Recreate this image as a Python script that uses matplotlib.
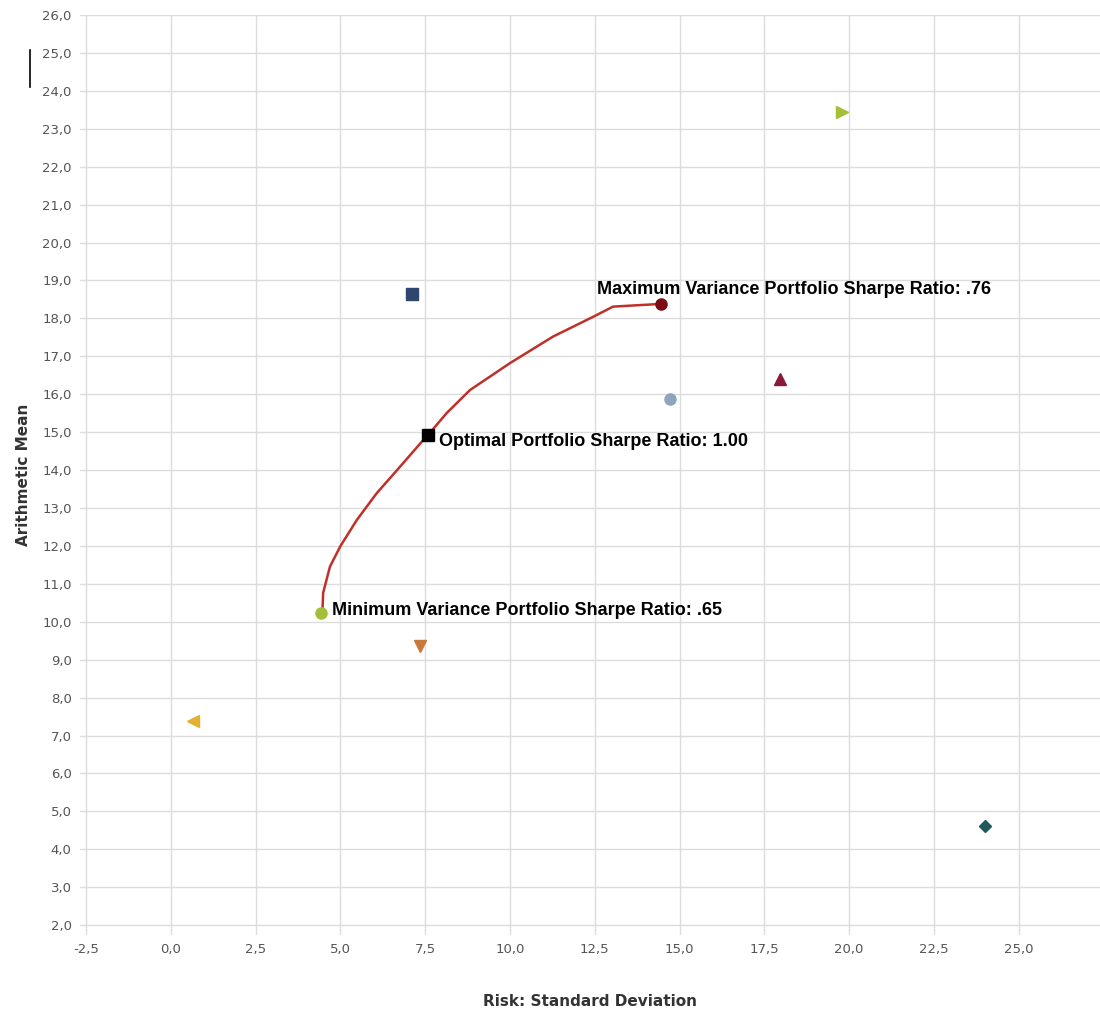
import matplotlib.pyplot as plt
from matplotlib.ticker import FuncFormatter

# efficient frontier (risk, mean)
frontier_risk = [4.47, 4.49, 4.69, 4.99, 5.48, 6.07, 6.76, 7.44, 7.54, 8.13,
                 8.82, 10.0, 11.27, 12.45, 13.04, 14.42]
frontier_mean = [10.26, 10.76, 11.45, 11.98, 12.68, 13.39, 14.09, 14.79, 14.88,
                 15.50, 16.11, 16.82, 17.52, 18.04, 18.31, 18.38]

# individual assets
asset_risk = [7.1, 14.72, 17.96, 7.35, 0.65, 24.0, 19.8]
asset_mean = [18.65, 15.87, 16.4, 9.36, 7.38, 4.61, 23.44]
asset_marker = ['s', 'o', '^', 'v', '<', 'D', '>']
asset_color = ['#2f4670', '#8fa5bf', '#8a1a3a', '#c8783a', '#e3b030', '#1f5a5a', '#a5c035']

# highlighted portfolios
port_names = ['Maximum Variance Portfolio Sharpe Ratio: .76',
              'Optimal Portfolio Sharpe Ratio: 1.00',
              'Minimum Variance Portfolio Sharpe Ratio: .65']
port_risk = [14.45, 7.58, 4.42]
port_mean = [18.38, 14.92, 10.23]
port_marker = ['o', 's', 'o']
port_color = ['#7a0a14', '#000000', '#a2be3a']
# label anchors (left edge, vertical centre)
label_x = [12.57, 7.9, 4.75]
label_y = [18.75, 14.76, 10.3]

fig = plt.figure(figsize=(11, 10.22), dpi=100)
ax = fig.add_axes([80 / 1100, 1 - 935 / 1022, 1020 / 1100, 920 / 1022])

ax.plot(frontier_risk, frontier_mean, color='#c0302a', lw=1.8, zorder=3)

for x, y, m, c in zip(asset_risk, asset_mean, asset_marker, asset_color):
    ax.plot(x, y, marker=m, color=c, ms=8 if m != 'D' else 6, ls='none', zorder=4)

for name, x, y, m, c, lx, ly in zip(port_names, port_risk, port_mean, port_marker,
                                    port_color, label_x, label_y):
    ax.plot(x, y, marker=m, color=c, ms=8, ls='none', zorder=5)
    ax.text(lx, ly, name, fontsize=13, fontweight='bold', family='Liberation Sans',
            va='center', ha='left', zorder=6)

ax.set_xlim(-2.68, 27.4)
ax.set_ylim(1.74, 26)
comma = FuncFormatter(lambda v, p: f'{v:.1f}'.replace('.', ','))
ax.xaxis.set_major_formatter(comma)
ax.yaxis.set_major_formatter(comma)
ax.set_xticks([-2.5 + 2.5 * i for i in range(12)])
ax.set_yticks(range(2, 27))

ax.grid(True, color='#dcdcdc', lw=1)
ax.set_axisbelow(True)
for s in ax.spines.values():
    s.set_visible(False)
ax.tick_params(length=0, labelsize=9.5, labelcolor='#555555', pad=6)

ax.set_xlabel('Risk: Standard Deviation', fontsize=11, fontweight='bold',
              color='#333333')
ax.xaxis.set_label_coords(0.5, -0.064)
ax.set_ylabel('Arithmetic Mean', fontsize=11, fontweight='bold',
              color='#333333', labelpad=8)

# stray vertical mark at top left
fig.add_artist(plt.Line2D([30 / 1100, 30 / 1100], [1 - 87 / 1022, 1 - 50 / 1022],
                          color='black', lw=1.2))

fig.savefig('out.png', dpi=100)
